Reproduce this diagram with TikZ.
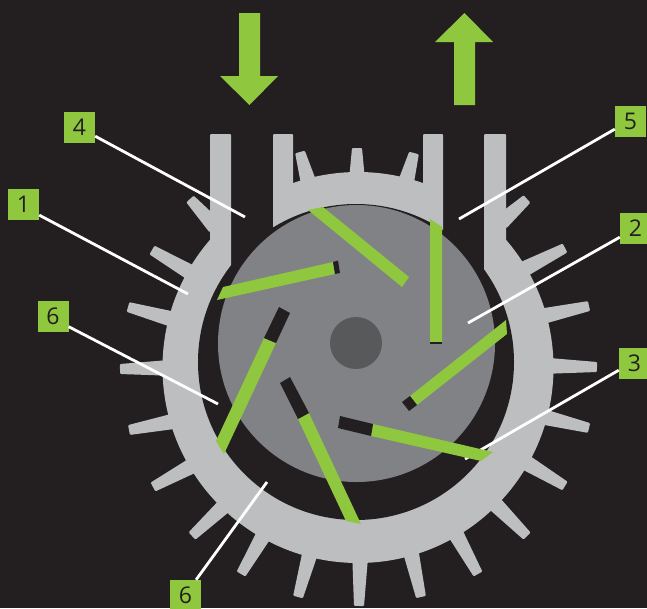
\documentclass[tikz,border=0pt]{standalone}
\usepackage{fontspec}
\setmainfont{Open Sans}
\usetikzlibrary{calc}
\definecolor{bgdark}{HTML}{231F20}
\definecolor{housing}{HTML}{BCBEC0}
\definecolor{rotorgrey}{HTML}{808285}
\definecolor{hubgrey}{HTML}{58595B}
\definecolor{leaf}{HTML}{8FC73E}
\tikzset{
  labelbox/.style={fill=leaf,text=bgdark,minimum size=31pt,inner sep=0pt,font=\fontsize{23}{23}\selectfont},
  leader/.style={draw=white,line width=2.8pt},
  housingfill/.style={fill=housing},
  toothfill/.style={fill=housing,rounded corners=1pt},
  vane/.style={fill=leaf},
  vaneend/.style={fill=bgdark},
  flowarrow/.style={fill=leaf}
}
\begin{document}
\begin{tikzpicture}[x=1pt,y=-1pt]
\useasboundingbox (0,0) rectangle (647,608);
\clip (0,0) rectangle (647,608);
\fill[bgdark] (0,0) rectangle (647,608);
% flow arrows
\fill[flowarrow] (239,13) -- (260,13) -- (260,76) -- (278,76) -- (249.5,105) -- (220,76) -- (239,76) -- cycle;
\fill[flowarrow] (454,105) -- (475,105) -- (475,42) -- (493,42) -- (464.5,13) -- (435,42) -- (454,42) -- cycle;
% housing ring
\fill[housingfill] (358,367.5) circle[radius=195.5];
% teeth
\foreach \tx/\ty/\bx/\by in {
  190/199/210/221, 152/250/188/271, 128/307/168/318, 120/369/163/368,
  129/430/170/422, 153/487/188/468, 192/536/222/508, 241/574/262/538,
  298/597/309/557, 359/606/360/563, 421/597/412/557, 478/574/458/538,
  527/536/498/507, 565/486/530/465, 589/428/548/418, 597/367/555/366,
  589/306/548/315, 565/248/528/267, 527/199/507/217,
  300/152/307/177, 357/148/357/172, 414/153/408/175}{
  \coordinate (t) at (\tx,\ty);
  \coordinate (b) at (\bx,\by);
  \coordinate (bi) at ($(b)!-8pt!(t)$);
  \fill[toothfill] ($(t)!5pt!90:(b)$) -- ($(t)!5pt!-90:(b)$)
     -- ($(bi)!8pt!90:(t)$) -- ($(bi)!8pt!-90:(t)$) -- cycle;
}
% port openings and port walls
\fill[bgdark] (231,120) rectangle (273,300);
\fill[bgdark] (443,120) rectangle (484,300);
\fill[housingfill,rounded corners=1pt] (210,134) rectangle (231,285);
\fill[housingfill,rounded corners=1pt] (273,134) rectangle (293,285);
\fill[housingfill,rounded corners=1pt] (423,134) rectangle (443,285);
\fill[housingfill,rounded corners=1pt] (484,134) rectangle (506,285);
% bore, rotor, hub
\fill[bgdark] (356,362) circle[radius=158];
\fill[rotorgrey] (356.5,343.5) circle[radius=138.5];
\fill[hubgrey] (356,343) circle[radius=26];
% labels and leaders
\node[labelbox] (lab4) at (79.5,127.5) {4};
\node[labelbox] (lab1) at (23.5,204.5) {1};
\node[labelbox] (lab6a) at (53,316.5) {6};
\node[labelbox] (lab5) at (630.5,121.5) {5};
\node[labelbox] (lab2) at (635.5,228.5) {2};
\node[labelbox] (lab3) at (634.5,363.5) {3};
\node[labelbox] (lab6b) at (185.5,595.5) {6};
\coordinate (end4) at (245,217);
\coordinate (end1) at (188,294);
\coordinate (end6a) at (218,404);
\coordinate (end6b) at (267,482);
\coordinate (end5) at (459,219);
\coordinate (end2) at (468,323);
\coordinate (end3) at (465,459);
\draw[leader] (lab4.-29) -- (end4);
\draw[leader] (lab1.-34) -- (end1);
\draw[leader] (lab6a.-33) -- (end6a);
\draw[leader] (lab6b.56) -- (end6b);
\draw[leader] (lab5.206) -- (end5);
\draw[leader] (lab2.209) -- (end2);
\draw[leader] (lab3.203) -- (end3);
% vanes
\fill[vane] (308,210) -- (323,207) -- (409,277) -- (402,287) -- cycle;
\fill[vane] (217,300) -- (223,287) -- (333,262) -- (335,274) -- cycle;
\fill[vaneend] (333,262) -- (338,260.5) -- (340,273) -- (335,274) -- cycle;
\fill[vane] (430,219) -- (442,227) -- (442,342) -- (430,342) -- cycle;
\fill[vaneend] (430,341.5) rectangle (442,344);
\fill[vane] (506,320) -- (507,334) -- (417,405) -- (410,396) -- cycle;
\fill[vaneend] (410,396) -- (402,402) -- (409,411) -- (417,405) -- cycle;
\fill[vane] (373,424) -- (493,452) -- (481,461) -- (371,436) -- cycle;
\fill[vaneend] (340,416) -- (373,424) -- (371,436) -- (338,428) -- cycle;
\fill[vane] (298,419) -- (309,413) -- (361,524) -- (346,521) -- cycle;
\fill[vaneend] (280,383) -- (290,377) -- (309,413) -- (298,419) -- cycle;
\fill[vane] (216,441) -- (224,454) -- (276,343) -- (264,338) -- cycle;
\fill[vaneend] (264,338) -- (279,307) -- (290,313) -- (276,343) -- cycle;
\end{tikzpicture}
\end{document}
